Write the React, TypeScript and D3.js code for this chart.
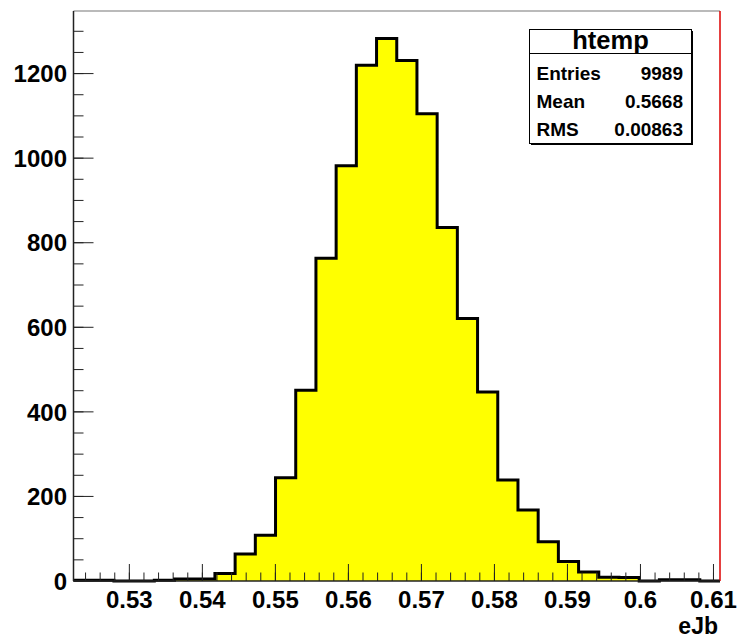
import React from "react";
import * as d3 from "d3";

const counts: number[] = [
  2, 2, 0, 0, 2, 5, 5, 18, 64, 108,
  244, 451, 763, 982, 1220, 1283, 1231, 1105, 836, 621,
  447, 239, 168, 93, 46, 21, 9, 8, 0, 3,
  3, 0,
];
const xMin = 0.52235;
const binWidth = 0.002767;
const xTickValues: number[] = [0.53, 0.54, 0.55, 0.56, 0.57, 0.58, 0.59, 0.6, 0.61];
const xTickLabels: string[] = ["0.53", "0.54", "0.55", "0.56", "0.57", "0.58", "0.59", "0.6", "0.61"];
const yTickValues: number[] = [0, 200, 400, 600, 800, 1000, 1200];
const statsLabels: string[] = ["Entries", "Mean", "RMS"];
const statsValues: string[] = ["9989", "0.5668", "0.00863"];
const histName = "htemp";
const xTitle = "eJb";

const W = 743;
const H = 638;
const left = 73.5;
const right = 720;
const top = 11;
const bottom = 581;
const FONT = "'Liberation Sans', Arial, Helvetica, sans-serif";

export default function App() {
  const xMax = xMin + binWidth * counts.length;
  const x = d3.scaleLinear().domain([xMin, xMax]).range([left, right]);
  const yMax = 1348;
  const y = d3.scaleLinear().domain([0, yMax]).range([bottom, top]);

  const pts: [number, number][] = counts.map((c, i) => [xMin + i * binWidth, c]);
  pts.push([xMax, counts[counts.length - 1]]);

  const line = d3
    .line<[number, number]>()
    .x((d) => x(d[0]))
    .y((d) => y(d[1]))
    .curve(d3.curveStepAfter);
  const area = d3
    .area<[number, number]>()
    .x((d) => x(d[0]))
    .y0(y(0))
    .y1((d) => y(d[1]))
    .curve(d3.curveStepAfter);

  const xMinor: number[] = [];
  for (let v = 0.524; v <= xMax + 1e-9; v += 0.002) {
    const r = Math.round(v * 1000) / 1000;
    if (r >= xMin && r <= xMax) xMinor.push(r);
  }
  const yMinor: number[] = [];
  for (let v = 0; v <= yMax; v += 50) yMinor.push(v);

  const boxX = 529.5;
  const boxY = 29.5;
  const boxW = 162;
  const boxH = 114;

  return (
    <div style={{ position: "fixed", left: 0, top: 0 }}>
      <svg width={W} height={H} style={{ display: "block", background: "#fff" }}>
        <rect x={0} y={0} width={W} height={H} fill="#fff" />
        <path d={area(pts) || ""} fill="#ffff00" stroke="none" />
        <path d={line(pts) || ""} fill="none" stroke="#000" strokeWidth={3} />

        <line x1={left} x2={right} y1={top} y2={top} stroke="#777" strokeWidth={1.2} />
        <line x1={right} x2={right} y1={top} y2={bottom} stroke="#dd0000" strokeWidth={1.5} />

        <line x1={left} x2={right} y1={bottom} y2={bottom} stroke="#222" strokeWidth={1.5} />
        {xMinor.map((v, i) => (
          <line key={"xm" + i} x1={x(v)} x2={x(v)} y1={bottom} y2={bottom - 8.5} stroke="#222" strokeWidth={1} />
        ))}
        {xTickValues.map((v, i) => (
          <g key={"xt" + i}>
            <line x1={x(v)} x2={x(v)} y1={bottom} y2={bottom - 17} stroke="#222" strokeWidth={1} />
            <text x={x(v)} y={607.5} textAnchor="middle" fontFamily={FONT} fontWeight="bold" fontSize={24} fill="#000">
              {xTickLabels[i]}
            </text>
          </g>
        ))}
        <text x={718} y={634} textAnchor="end" fontFamily={FONT} fontWeight="bold" fontSize={23} fill="#000">
          {xTitle}
        </text>

        <line x1={left} x2={left} y1={top} y2={bottom} stroke="#222" strokeWidth={1.5} />
        {yMinor.map((v, i) => (
          <line key={"ym" + i} x1={left} x2={left + 10} y1={y(v)} y2={y(v)} stroke="#222" strokeWidth={1} />
        ))}
        {yTickValues.map((v, i) => (
          <g key={"yt" + i}>
            <line x1={left} x2={left + 20} y1={y(v)} y2={y(v)} stroke="#222" strokeWidth={1} />
            <text x={67} y={y(v)} dy="0.36em" textAnchor="end" fontFamily={FONT} fontWeight="bold" fontSize={24} fill="#000">
              {String(v)}
            </text>
          </g>
        ))}

        <rect x={boxX + 1.5} y={boxY + 1.5} width={boxW} height={boxH} fill="#000" />
        <rect x={boxX} y={boxY} width={boxW} height={boxH} fill="#fff" stroke="#000" strokeWidth={1} />
        <line x1={boxX} x2={boxX + boxW} y1={53.5} y2={53.5} stroke="#000" strokeWidth={1} />
        <text x={boxX + boxW / 2} y={49} textAnchor="middle" fontFamily={FONT} fontWeight="bold" fontSize={25.5} fill="#000">
          {histName}
        </text>
        {statsLabels.map((s, i) => (
          <g key={"st" + i}>
            <text x={536.5} y={79.5 + i * 28} fontFamily={FONT} fontWeight="bold" fontSize={19} fill="#000">
              {s}
            </text>
            <text x={683} y={79.5 + i * 28} textAnchor="end" fontFamily={FONT} fontWeight="bold" fontSize={19} fill="#000">
              {statsValues[i]}
            </text>
          </g>
        ))}
      </svg>
    </div>
  );
}
